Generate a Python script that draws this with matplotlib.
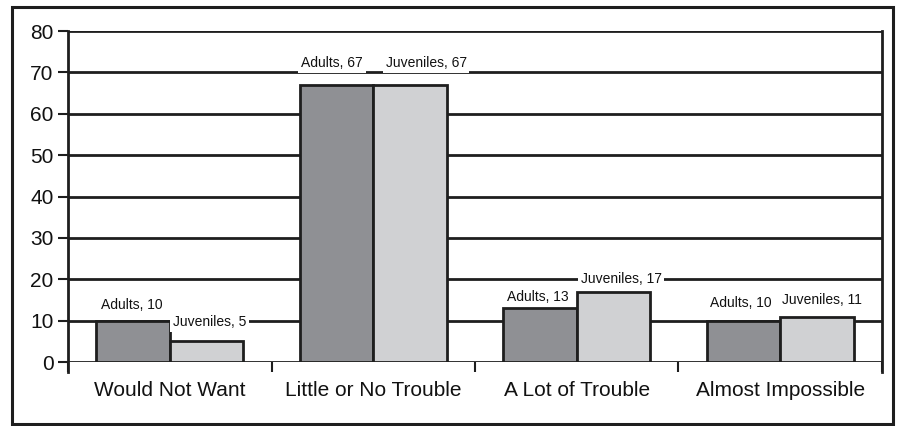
import numpy as np
import matplotlib

matplotlib.use("Agg")
import matplotlib.pyplot as plt  # noqa: E402
from matplotlib.patches import Rectangle  # noqa: E402

plt.rcParams["font.family"] = ["Liberation Sans Narrow", "Liberation Sans", "DejaVu Sans"]

categories = ["Would Not Want", "Little or No Trouble", "A Lot of Trouble", "Almost Impossible"]
adults = [10, 67, 13, 10]
juveniles = [5, 67, 17, 11]
yticks = [0, 10, 20, 30, 40, 50, 60, 70, 80]

# label offsets from bar-top centre, in pixels (dx, dy)
adult_off = [(-1.5, 15.5), (-4.5, 21.5), (-2, 11.5), (-2.5, 17.5)]
juv_off = [(3, 19.5), (16, 21.5), (7.5, 12.5), (5, 16.5)]

INK = "#1e1e1e"
fig = plt.figure(figsize=(9.02, 4.26), dpi=100)
ax = fig.add_axes([0.0754, 0.150, 0.9024, 0.777])

x = np.arange(len(categories))
w = 0.362
ax.bar(x - w / 2, adults, w, color="#8f9094", edgecolor=INK, lw=2, zorder=3)
ax.bar(x + w / 2, juveniles, w, color="#d0d1d3", edgecolor=INK, lw=2, zorder=3)

for yv in yticks:
    ax.axhline(yv, color=INK, lw=2, zorder=1)

for i in range(len(categories)):
    for xv, v, off, name in ((x[i] - w / 2, adults[i], adult_off[i], "Adults"),
                             (x[i] + w / 2, juveniles[i], juv_off[i], "Juveniles")):
        ax.annotate(f"{name}, {v}", (xv, v), xytext=(off[0] * 0.72, off[1] * 0.72),
                    textcoords="offset points", ha="center", va="center",
                    fontsize=10, color="#111", zorder=5,
                    bbox=dict(facecolor="white", edgecolor="none", pad=2))
    ax.annotate(categories[i], (x[i], 0), xytext=(0, -28 * 0.72),
                textcoords="offset points", ha="center", va="center",
                fontsize=15, color="#111")

ax.set_xlim(-0.5, len(categories) - 0.5)
ax.set_ylim(0, 80)
ax.set_yticks(yticks)
ax.set_xticks(np.arange(len(categories) + 1) - 0.5)
ax.set_xticklabels([])
ax.tick_params(axis="y", length=7.5, width=1.5, color=INK, labelsize=15, pad=3,
               labelcolor="#111")
ax.tick_params(axis="x", length=7.5, width=1.5, color=INK)
for s in ("top", "bottom"):
    ax.spines[s].set_visible(False)
for s in ("left", "right"):
    ax.spines[s].set_linewidth(2)
    ax.spines[s].set_color(INK)
    ax.spines[s].set_bounds(-2.4, 80)

fig.patches.append(Rectangle((12 / 902, 2 / 426), 881 / 902, 417 / 426,
                             transform=fig.transFigure, fill=False,
                             edgecolor=INK, lw=2.2))

fig.savefig("out.png", dpi=100)
